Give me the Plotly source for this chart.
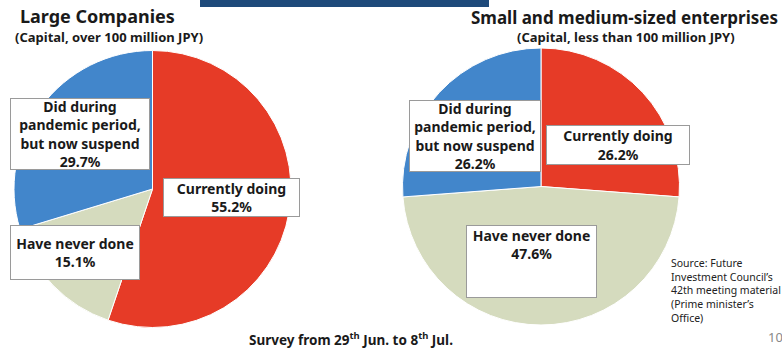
import plotly.graph_objects as go

categories = ["Currently doing", "Have never done", "Did during pandemic period, but now suspend"]
large_values = [55.2, 15.1, 29.7]
sme_values = [26.2, 47.6, 26.2]
colors = ["#E63B27", "#D5DBBE", "#4286CB"]

W, H = 782, 352
FONT = "Noto Sans"

def px(x):
    return x / W

def py(y):
    return 1 - y / H

fig = go.Figure()
fig.add_trace(go.Pie(
    labels=categories, values=large_values, sort=False, direction="clockwise", rotation=0,
    marker=dict(colors=colors, line=dict(color="white", width=1)),
    textinfo="none", showlegend=False,
    domain=dict(x=[px(14), px(291)], y=[py(328), py(50)]),
))
fig.add_trace(go.Pie(
    labels=categories, values=sme_values, sort=False, direction="clockwise", rotation=0,
    marker=dict(colors=colors, line=dict(color="white", width=1)),
    textinfo="none", showlegend=False,
    domain=dict(x=[px(400), px(682)], y=[py(325), py(48)]),
))

ann = []

def box(text, cx, cy, w, h, valign="middle"):
    ann.append(dict(
        text=text, x=px(cx), y=py(cy), xref="paper", yref="paper",
        xanchor="center", yanchor="middle", showarrow=False,
        width=w, height=h, valign=valign, align="center",
        bgcolor="white", bordercolor="#9a9a9a", borderwidth=1, borderpad=0,
        font=dict(family=FONT, size=14, color="#1a1a1a", weight="bold"),
    ))

def lbl(name, v):
    if name.startswith("Did"):
        return f"Did during<br>pandemic period,<br>but now suspend<br>{v}%"
    return f"{name}<br>{v}%"

# Left pie labels
box(lbl(categories[2], large_values[2]), 80, 134, 138, 70)
box(lbl(categories[0], large_values[0]), 231.5, 197.5, 135, 37)
box(lbl(categories[1], large_values[1]), 75, 252.5, 128, 53)
# Right pie labels
box(lbl(categories[2], sme_values[2]), 475, 136, 130, 70)
box(lbl(categories[0], sme_values[0]), 618, 145, 142, 38)
box(lbl(categories[1], sme_values[1]), 531.5, 261.5, 129, 71, valign="top")

def txt(text, x, y, size, xanchor="center", color="#1a1a1a", bold=True, align="center"):
    ann.append(dict(
        text=text, x=px(x), y=py(y), xref="paper", yref="paper",
        xanchor=xanchor, yanchor="middle", showarrow=False, align=align,
        font=dict(family=FONT, size=size, color=color, weight="bold" if bold else "normal"),
    ))

txt("Large Companies", 97, 16, 18)
txt("(Capital, over 100 million JPY)", 109, 37, 13)
txt("Small and medium-sized enterprises", 624, 17, 17)
txt("(Capital, less than 100 million JPY)", 626, 37, 13)
txt("Survey from 29<sup>th</sup> Jun. to 8<sup>th</sup> Jul.", 351, 339, 13.5)
txt("Source: Future<br>Investment Council’s<br>42th meeting material<br>(Prime minister’s<br>Office)",
    669, 290, 10.5, xanchor="left", align="left", bold=False, color="#222222")
txt("10", 766, 337, 13, xanchor="left", bold=False, color="#888888")

fig.update_layout(
    width=W, height=H, margin=dict(l=0, r=0, t=0, b=0),
    paper_bgcolor="white", plot_bgcolor="white",
    annotations=ann,
    shapes=[dict(type="rect", xref="paper", yref="paper",
                 x0=px(200), x1=px(489), y0=py(7), y1=1,
                 fillcolor="#1E4A7A", line=dict(width=0))],
)
fig.write_html("out.html")
